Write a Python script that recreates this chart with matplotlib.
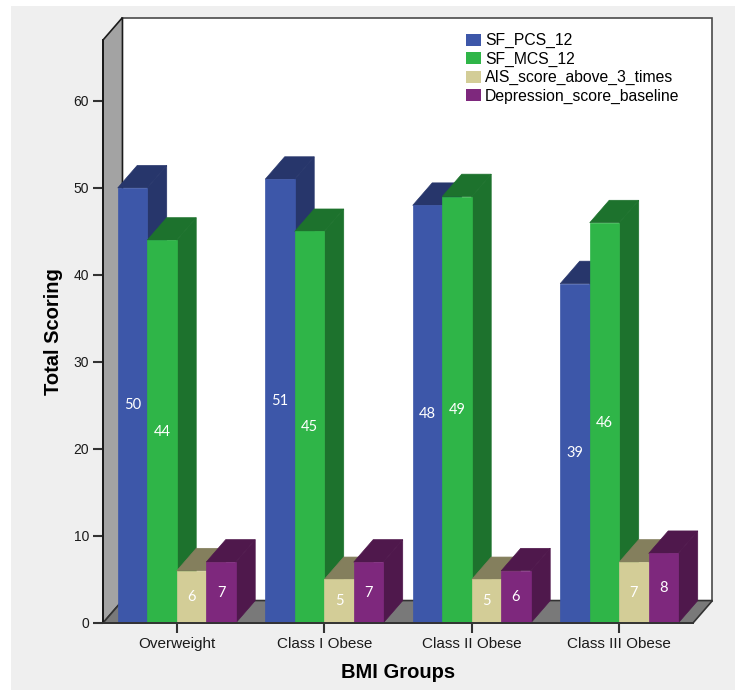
import matplotlib
matplotlib.use("Agg")
import matplotlib.pyplot as plt
from matplotlib.patches import Polygon, Rectangle, Patch

# mean scores per BMI group
groups = ["Overweight", "Class I Obese", "Class II Obese", "Class III Obese"]
series = ["SF_PCS_12", "SF_MCS_12", "AIS_score_above_3_times", "Depression_score_baseline"]
sf_pcs = [50, 51, 48, 39]
sf_mcs = [44, 45, 49, 46]
ais_score = [6, 5, 5, 7]
depression = [7, 7, 6, 8]
yticks = [0, 10, 20, 30, 40, 50, 60]

values = [sf_pcs, sf_mcs, ais_score, depression]
front_colors = ["#3d57a9", "#2fb548", "#d3cd97", "#7e287d"]
shade_colors = ["#27366b", "#1d722d", "#847f5d", "#4f184c"]

plt.rcParams["font.family"] = ["Liberation Sans", "DejaVu Sans"]

fig = plt.figure(figsize=(7.35, 6.9), dpi=100)
fig.patches.append(Rectangle((11 / 735, 0), 1, 1 - 6 / 690, transform=fig.transFigure,
                             facecolor="#efefef", edgecolor="none", zorder=-10))

ax = fig.add_axes([103 / 735, 67 / 690, 590 / 735, 583 / 690])
ax.set_facecolor("none")
ax.set_xlim(-0.5, 3.5)
ax.set_ylim(0, 67)

# depth of the pseudo-3d box in data units
dx, dy = 0.132, 2.58
x_lo, x_hi = -0.5, 3.5
y_top = 67

# back wall, left wall and floor
ax.add_patch(Rectangle((x_lo + dx, dy), x_hi - x_lo, y_top, facecolor="white",
                       edgecolor="#4a4a4a", lw=1.2, clip_on=False, zorder=0))
ax.add_patch(Polygon([(x_lo, 0), (x_lo + dx, dy), (x_lo + dx, y_top + dy), (x_lo, y_top)],
                     closed=True, facecolor="#a3a3a3", edgecolor="#1a1a1a", lw=1.2,
                     clip_on=False, zorder=1))
ax.add_patch(Polygon([(x_lo, 0), (x_hi, 0), (x_hi + dx, dy), (x_lo + dx, dy)],
                     closed=True, facecolor="#797979", edgecolor="#333333", lw=1.2,
                     clip_on=False, zorder=1))

width = 0.2
for i in range(len(groups)):
    for j, vals in enumerate(values):
        v = vals[i]
        x0 = i - 0.4 + j * width
        x1 = x0 + width
        side = [(x1, 0), (x1 + dx, dy), (x1 + dx, v + dy), (x1, v)]
        top = [(x0, v), (x0 + dx, v + dy), (x1 + dx, v + dy), (x1, v)]
        ax.add_patch(Polygon(side, closed=True, facecolor=shade_colors[j],
                             edgecolor=shade_colors[j], lw=0.5, clip_on=False, zorder=2))
        ax.add_patch(Polygon(top, closed=True, facecolor=shade_colors[j],
                             edgecolor=shade_colors[j], lw=0.5, clip_on=False, zorder=2))
        ax.add_patch(Rectangle((x0, 0), width, v, facecolor=front_colors[j],
                               edgecolor=front_colors[j], lw=0.5, clip_on=False, zorder=2))
        ax.text(x0 + width / 2, v / 2, f"{v:.0f}", color="white", ha="center",
                va="center", fontsize=10.5, family=["Lato", "DejaVu Sans"], zorder=3)

for side_name in ["top", "right"]:
    ax.spines[side_name].set_visible(False)
ax.spines["left"].set_color("#1a1a1a")
ax.spines["left"].set_linewidth(1.4)
ax.spines["left"].set_zorder(4)
ax.spines["bottom"].set_color("#333333")
ax.spines["bottom"].set_linewidth(1.4)
ax.spines["bottom"].set_zorder(4)

ax.set_yticks(yticks)
ax.set_xticks(range(len(groups)))
ax.set_xticklabels(groups, fontsize=11)
ax.tick_params(axis="both", direction="out", length=7, width=1.5, color="#333333",
               labelcolor="#1a1a1a", pad=3)
ax.tick_params(axis="y", labelsize=10)

ax.set_ylabel("Total Scoring", fontsize=14.5, fontweight="bold")
ax.yaxis.set_label_coords(-40 / 590, 0.5)
ax.set_xlabel("BMI Groups", fontsize=14.5, fontweight="bold", labelpad=9)

handles = [Patch(facecolor=c, edgecolor="none") for c in front_colors]
fig.legend(handles, series, loc="upper left", bbox_to_anchor=(466 / 735, 1 - 33 / 690),
           frameon=False, fontsize=11.3, handlelength=0.95, handleheight=0.8,
           handletextpad=0.25, labelspacing=0.22, borderpad=0, borderaxespad=0)

fig.savefig("out.png", dpi=100)
